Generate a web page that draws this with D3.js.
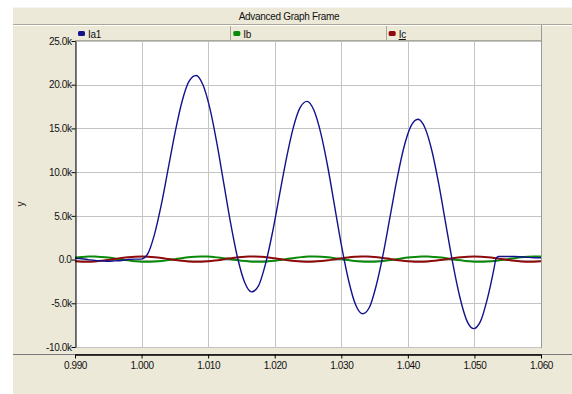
<!DOCTYPE html>
<html><head><meta charset="utf-8">
<script src="https://cdn.jsdelivr.net/npm/d3@7/dist/d3.min.js"></script>
<style>
html,body{margin:0;padding:0;background:#fff;}
svg{display:block;font-family:"Liberation Sans",Arial,sans-serif;}
</style></head>
<body>
<svg id="c" width="572" height="394"></svg>
<script>
// ---- data (values in thousands) ----
const title = "Advanced Graph Frame";
const yLabel = "y";
const seriesNames = ["Ia1", "Ib", "Ic"];
const seriesColors = ["#12128c", "#0a8a0a", "#8e0a0a"];
const xTicks = [0.990, 1.000, 1.010, 1.020, 1.030, 1.040, 1.050, 1.060];
const xTickLabels = ["0.990", "1.000", "1.010", "1.020", "1.030", "1.040", "1.050", "1.060"];
const yTicks = [-10, -5, 0, 5, 10, 15, 20, 25];
const yTickLabels = ["-10.0k", "-5.0k", "0.0", "5.0k", "10.0k", "15.0k", "20.0k", "25.0k"];

const iaTime = [0.990,0.991,0.992,0.993,0.994,0.995,0.996,0.997,0.998,0.999,
  0.99985,1.00089,1.00193,1.00298,1.00402,1.00506,1.00610,1.00714,1.00818,1.00923,
  1.01027,1.01131,1.01235,1.01339,1.01443,1.01548,1.01652,1.01756,1.01860,1.01964,
  1.02068,1.02173,1.02277,1.02381,1.02485,1.02589,1.02693,1.02798,1.02902,1.03006,
  1.03110,1.03214,1.03318,1.03423,1.03527,1.03631,1.03735,1.03839,1.03943,1.04048,
  1.04152,1.04256,1.04360,1.04464,1.04568,1.04673,1.04777,1.04881,1.04985,1.05089,
  1.05193,1.05298,1.0532,1.0536,1.0560,1.0575,1.0590,1.0600];
const iaValue = [0.15,0.10,0.0,-0.10,-0.15,-0.20,-0.15,-0.10,0.0,0.05,
  0.05,0.61,2.85,6.33,10.48,14.64,18.14,20.40,21.05,19.96,
  17.26,13.32,8.71,4.11,0.18,-2.60,-3.70,-3.00,-0.55,3.01,
  7.24,11.47,15.04,17.38,18.10,17.07,14.43,10.56,6.01,1.47,
  -2.39,-5.15,-6.20,-5.45,-2.90,0.71,5.00,9.28,12.90,15.29,
  16.05,15.08,12.48,8.65,4.15,-0.35,-4.17,-6.90,-7.90,-7.10,
  -4.52,-0.87,0.0,0.35,0.35,0.30,0.20,0.20];

const bcTime = d3.range(71).map(i => +(0.990 + i * 0.001).toFixed(3));
const ibValue = [0.23,0.30,0.34,0.34,0.30,0.23,0.125,0.01,-0.09,-0.18,
  -0.24,-0.25,-0.22,-0.16,-0.06,0.05,0.16,0.26,0.32,0.35,
  0.34,0.28,0.19,0.09,-0.02,-0.13,-0.20,-0.24,-0.24,-0.20,
  -0.13,-0.02,0.09,0.19,0.28,0.34,0.35,0.32,0.26,0.16,
  0.05,-0.06,-0.16,-0.22,-0.25,-0.24,-0.18,-0.09,0.01,0.125,
  0.23,0.30,0.34,0.34,0.30,0.23,0.125,0.01,-0.09,-0.18,
  -0.24,-0.25,-0.22,-0.16,-0.06,0.05,0.16,0.26,0.32,0.35,0.34];
const icValue = [-0.19,-0.24,-0.25,-0.21,-0.14,-0.04,0.07,0.18,0.27,0.33,
  0.35,0.33,0.27,0.18,0.07,-0.04,-0.14,-0.21,-0.25,-0.24,
  -0.19,-0.11,-0.01,0.11,0.21,0.29,0.34,0.35,0.31,0.24,
  0.14,0.03,-0.08,-0.17,-0.23,-0.25,-0.23,-0.17,-0.08,0.03,
  0.14,0.24,0.31,0.35,0.34,0.29,0.21,0.11,-0.01,-0.11,
  -0.19,-0.24,-0.25,-0.21,-0.14,-0.04,0.07,0.18,0.27,0.33,
  0.35,0.33,0.27,0.18,0.07,-0.04,-0.14,-0.21,-0.25,-0.24,-0.19];

// ---- layout ----
const W = 572, H = 394;
const L = 75, R = 541, T = 41, B = 347;
const beige = "#ece9d8", edge = "#aca899";

const svg = d3.select("#c");
svg.append("rect").attr("width", W).attr("height", H).attr("fill", "#fff");
svg.append("rect").attr("x", 13).attr("y", 7).attr("width", W - 13).attr("height", H - 7).attr("fill", beige);
svg.append("line").attr("x1", 13).attr("x2", W).attr("y1", 7.5).attr("y2", 7.5).attr("stroke", "#f7f6f0");

// title band
svg.append("text").attr("x", 289).attr("y", 20).attr("text-anchor", "middle")
  .attr("font-size", 10).attr("fill", "#111").attr("letter-spacing", -0.3).text(title);
svg.append("line").attr("x1", 13).attr("x2", W).attr("y1", 24.5).attr("y2", 24.5).attr("stroke", edge);
svg.append("line").attr("x1", 13).attr("x2", W).attr("y1", 25.5).attr("y2", 25.5).attr("stroke", "#fff");

// legend band
const lw = (R - L) / 3;
const leg = svg.append("g");
seriesNames.forEach((n, i) => {
  const x0 = L + i * lw;
  leg.append("rect").attr("x", x0 + 3).attr("y", 31).attr("width", 7).attr("height", 5)
    .attr("rx", 1.5).attr("fill", seriesColors[i]);
  const t = leg.append("text").attr("x", x0 + 13).attr("y", 38).attr("font-size", 10)
    .attr("fill", "#111").attr("letter-spacing", -0.3);
  if (i === 2) {
    t.append("tspan").attr("text-decoration", "underline").text(n);
  } else t.text(n);
  if (i > 0) leg.append("line").attr("x1", Math.round(x0) + 0.5).attr("x2", Math.round(x0) + 0.5)
    .attr("y1", 26).attr("y2", T).attr("stroke", edge);
});
svg.append("line").attr("x1", L).attr("x2", R).attr("y1", T - 0.5).attr("y2", T - 0.5).attr("stroke", edge);

// plot area
svg.append("rect").attr("x", L).attr("y", T).attr("width", R - L).attr("height", B - T).attr("fill", "#fff");

const x = d3.scaleLinear().domain([0.990, 1.060]).range([L, R]);
const y = d3.scaleLinear().domain([-10, 25]).range([B, T]);

// grid
const grid = svg.append("g").attr("stroke", "#c4c4c4").attr("stroke-width", 1);
xTicks.forEach(v => grid.append("line").attr("x1", Math.round(x(v)) + 0.5).attr("x2", Math.round(x(v)) + 0.5)
  .attr("y1", T).attr("y2", B));
yTicks.forEach(v => grid.append("line").attr("x1", L).attr("x2", R)
  .attr("y1", Math.round(y(v)) + 0.5).attr("y2", Math.round(y(v)) + 0.5));

// right border
svg.append("line").attr("x1", R + 0.5).attr("x2", R + 0.5).attr("y1", 25).attr("y2", B + 1).attr("stroke", "#9a9a9a");

// series
const line = d3.line().x(d => x(d[0])).y(d => y(d[1])).curve(d3.curveMonotoneX);
const clip = svg.append("clipPath").attr("id", "pc").append("rect")
  .attr("x", L).attr("y", T).attr("width", R - L).attr("height", B - T);
const plot = svg.append("g").attr("clip-path", "url(#pc)");
plot.append("path").datum(d3.zip(bcTime, ibValue)).attr("d", line).attr("fill", "none")
  .attr("stroke", seriesColors[1]).attr("stroke-width", 2);
plot.append("path").datum(d3.zip(bcTime, icValue)).attr("d", line).attr("fill", "none")
  .attr("stroke", seriesColors[2]).attr("stroke-width", 2);
plot.append("path").datum(d3.zip(iaTime, iaValue)).attr("d", line).attr("fill", "none")
  .attr("stroke", seriesColors[0]).attr("stroke-width", 1.4);

// y axis
const yAxis = d3.axisLeft(y).tickValues(yTicks).tickFormat((d, i) => yTickLabels[i]).tickSize(4).tickSizeOuter(0);
const gy = svg.append("g").attr("transform", `translate(${L + 0.5},0)`).call(yAxis);
gy.select(".domain").attr("stroke", "#000");
gy.selectAll("text").attr("font-size", 10).attr("fill", "#111").attr("letter-spacing", -0.4)
  .attr("font-family", "Liberation Sans, Arial, sans-serif").attr("x", -4);
svg.append("text").attr("transform", "translate(24,204) rotate(-90)").attr("text-anchor", "middle")
  .attr("font-size", 10).attr("fill", "#111").text(yLabel);

// x axis
svg.append("line").attr("x1", 13).attr("x2", W).attr("y1", 354.5).attr("y2", 354.5).attr("stroke", "#7a7a7a");
const xAxis = d3.axisBottom(x).tickValues(xTicks).tickFormat((d, i) => xTickLabels[i]).tickSize(4).tickSizeOuter(0);
const gx = svg.append("g").attr("transform", `translate(0,${354.5})`).call(xAxis);
gx.select(".domain").attr("stroke", "#000").attr("stroke-width", 1.5);
gx.selectAll("text").attr("font-size", 10).attr("fill", "#111").attr("letter-spacing", -0.4)
  .attr("font-family", "Liberation Sans, Arial, sans-serif").attr("y", 7);
</script>
</body></html>
